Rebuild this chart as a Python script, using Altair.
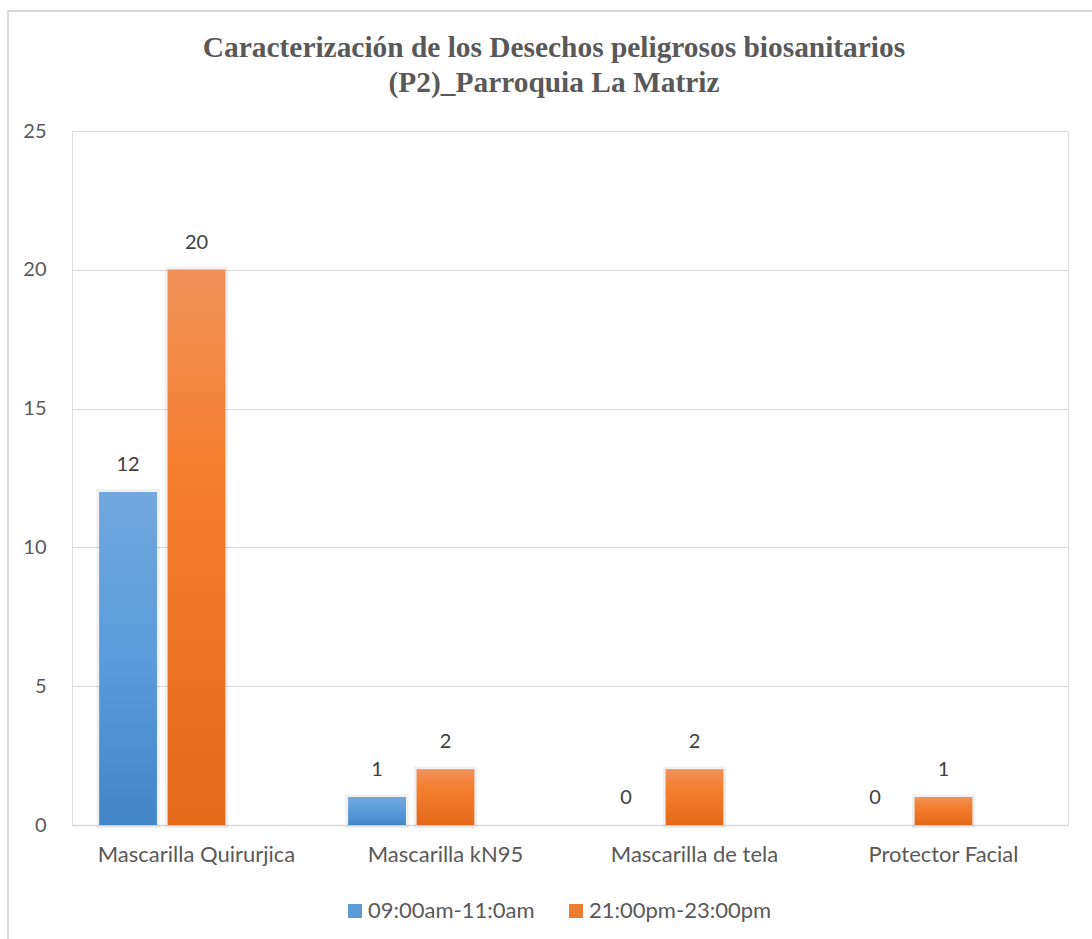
import altair as alt
import pandas as pd

# Categories and counts per collection shift
categorias = ["Mascarilla Quirurjica", "Mascarilla kN95", "Mascarilla de tela", "Protector Facial"]
series = ["09:00am-11:0am", "21:00pm-23:00pm"]
manana = [12, 1, 0, 0]
noche = [20, 2, 2, 1]

titulo = ["Caracterización de los Desechos peligrosos biosanitarios", "(P2)_Parroquia La Matriz"]

filas = []
for cat, v1, v2 in zip(categorias, manana, noche):
    filas.append({"categoria": cat, "serie": series[0], "valor": v1})
    filas.append({"categoria": cat, "serie": series[1], "valor": v2})
df = pd.DataFrame(filas)

azul = "#5b9bd5"
naranja = "#ed7d31"
grid = "#d9d9d9"
label_font = "Lato"

grad_azul = alt.LinearGradient(
    gradient="linear", x1=0, y1=0, x2=0, y2=1,
    stops=[alt.GradientStop(color="#72a8dd", offset=0),
           alt.GradientStop(color="#5a9bdb", offset=0.5),
           alt.GradientStop(color="#4286c8", offset=1)],
)
grad_naranja = alt.LinearGradient(
    gradient="linear", x1=0, y1=0, x2=0, y2=1,
    stops=[alt.GradientStop(color="#f0915a", offset=0),
           alt.GradientStop(color="#f47f2f", offset=0.35),
           alt.GradientStop(color="#e4691a", offset=1)],
)

x_enc = alt.X(
    "categoria:N",
    sort=categorias,
    scale=alt.Scale(domain=categorias, paddingInner=0.22, paddingOuter=0.11),
    axis=alt.Axis(
        title=None, labelAngle=0, labelFontSize=22, labelFont=label_font,
        labelColor="#595959", labelPadding=19, ticks=False, labelLimit=400,
        domainColor=grid, domainWidth=1.5,
    ),
)
# third slot left empty so each pair sits left of the category centre
xo_enc = alt.XOffset(
    "serie:N",
    scale=alt.Scale(domain=series + ["-"], paddingInner=0.16, paddingOuter=0),
)
y_enc = alt.Y(
    "valor:Q",
    scale=alt.Scale(domain=[0, 25]),
    axis=alt.Axis(
        title=None, values=[0, 5, 10, 15, 20, 25], labelFontSize=20,
        labelFont=label_font, labelColor="#595959", labelPadding=26,
        domain=False, ticks=False, gridColor=grid, gridWidth=1.2,
    ),
)

base = alt.Chart(df)

barras_leyenda = base.mark_bar().encode(
    x=x_enc, xOffset=xo_enc, y=y_enc,
    color=alt.Color(
        "serie:N",
        scale=alt.Scale(domain=series, range=[azul, naranja]),
        legend=alt.Legend(
            title=None, orient="none", direction="horizontal",
            legendX=272, legendY=769, symbolType="square", symbolSize=196,
            symbolStrokeWidth=0, labelFontSize=22, labelFont=label_font,
            labelColor="#595959", columnPadding=30, labelOffset=2,
            labelLimit=400,
        ),
    ),
)

# soft shadow around the bars
sombra = base.transform_filter(alt.datum.valor > 0).mark_bar(
    fill=None, stroke="#000000", strokeOpacity=0.06, strokeWidth=6
).encode(x=x_enc, xOffset=xo_enc, y=y_enc)

barras_azul = base.transform_filter(alt.datum.serie == series[0]).mark_bar(
    fill=grad_azul
).encode(x=x_enc, xOffset=xo_enc, y=y_enc)

barras_naranja = base.transform_filter(alt.datum.serie == series[1]).mark_bar(
    fill=grad_naranja
).encode(x=x_enc, xOffset=xo_enc, y=y_enc)

etiquetas = base.mark_text(
    baseline="bottom", dy=-17, fontSize=20, font=label_font, color="#404040"
).encode(x=x_enc, xOffset=xo_enc, y=y_enc, text="valor:Q")

# chart-area border (left and top edges)
borde_izq = base.mark_rule(color=grid, strokeWidth=2).encode(
    x=alt.value(-64), y=alt.value(-120), y2=alt.value(808)
)
borde_sup = base.mark_rule(color=grid, strokeWidth=2).encode(
    x=alt.value(-65), x2=alt.value(1020), y=alt.value(-120)
)

chart = (
    alt.layer(barras_leyenda, sombra, barras_azul, barras_naranja, etiquetas, borde_izq, borde_sup)
    .properties(
        width=996,
        height=694,
        padding={"left": 72, "top": 131, "right": 24, "bottom": 114},
        autosize=alt.AutoSizeParams(type="none"),
        title=alt.TitleParams(
            text=titulo, font="Liberation Serif", fontSize=29.4, fontWeight="bold",
            color="#595959", anchor="middle", dx=-16, offset=-88, lineHeight=35,
        ),
    )
    .configure_view(stroke=None)
    .configure(background="white")
)

chart.save("out.html", embed_options={"renderer": "svg", "actions": False})
